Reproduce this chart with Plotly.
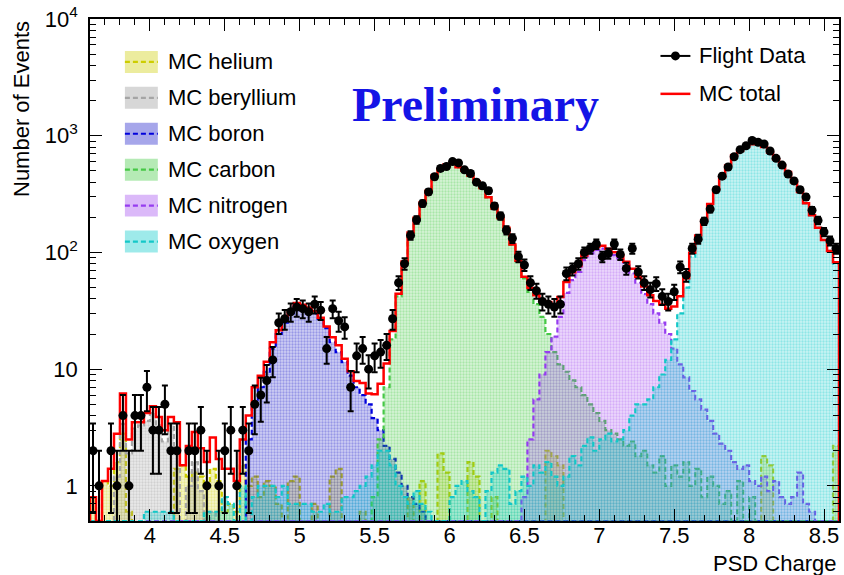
import numpy as np
import plotly.graph_objects as go

# PSD charge binning: 125 bins of width 0.04 between 3.6 and 8.6
CHARGE_LO, CHARGE_HI, N_BINS = 3.6, 8.6, 125

# MC expectation per bin for each species; each list starts at the bin index given by *_first
helium_first = 0
helium = [
    0.8, 0, 1.1, 1.0, 1.6, 2.8, 0.6, 0.4, 0.2, 0,
    0, 0, 0, 0, 1.4, 1.5, 1.2, 1.3, 1.2, 1.0,
    1.4, 1.1, 0.6, 0.7, 0.6, 1.5, 1.0, 1.2, 0.8, 1.1,
    1.0, 0.7, 0, 1.1, 1.2, 0, 0, 0.7, 0, 0,
    1.2, 1.4, 0, 0, 0, 0.6, 0, 0, 0, 0,
    0, 0, 0, 0.8, 0, 1.1, 0, 0, 1.9, 1.3,
    0, 0, 0, 1.6, 1.2, 0, 0, 0.8, 0, 0,
    0, 0, 0, 0, 0, 0, 2.0, 1.8, 1.5, 0,
    0, 0, 0, 0, 0, 0, 0, 0, 0, 0,
    0, 0, 0, 0, 0, 0, 0, 0, 0, 0,
    0, 0, 0, 0, 0, 0, 0, 0, 0, 0,
    0, 0, 1.8, 1.5, 0, 0, 0, 0, 0, 0,
    0, 0, 0, 0, 2.2,
]
beryllium_first = 0
beryllium = [
    0, 0, 0, 0.4, 1.2, 3.4, 1.9, 3.1, 3.3, 3.6,
    4.2, 3.3, 2.4, 3.3, 2.1, 0, 1.0, 1.6, 0.9, 0,
    0.6,
]
boron_first = 26
boron = [
    2.5, 5.0, 7.0, 9.5, 15, 20, 25, 30, 35, 35,
    33, 30, 27, 22.5, 17, 14, 11.5, 8.8, 7.0, 6.0,
    5.0, 3.8, 3.0, 2.2, 1.7, 1.3, 1.0, 0.8, 0.7, 0.6,
]
carbon_first = 47
carbon = [
    0.8, 2.5, 7.0, 18, 42, 82, 146, 197, 266, 337,
    456, 516, 566, 576, 536, 501, 451, 406, 356, 296,
    236, 196, 161, 116, 84, 60, 46, 36, 28, 20,
    14, 11, 9.5, 8, 7, 6, 5, 4.2, 3.6, 3.0,
    2.8, 2.5, 2.2, 2.4, 1.8, 2.0, 1.5, 1.3, 1.8, 1.0,
    1.5, 1.2, 1.6, 1.0, 1.4, 0.8, 1.2, 1.0, 0.7, 0.9,
    0, 1.1, 0, 0.8,
]
nitrogen_first = 72
nitrogen = [
    0.8, 2.5, 5.5, 9, 14, 19, 28, 45, 58, 68,
    86, 98, 105, 108, 102, 95, 89, 78, 66, 55,
    44, 36, 30, 25, 20, 15, 11, 8.5, 6.5, 5.5,
    4.5, 3.6, 2.8, 2.3, 2.0, 1.6, 1.4, 1.5, 1.1, 1.0,
    1.2, 0.9, 1.1, 0.8, 0.7, 0.8, 1.3, 0.7, 0.6,
]
oxygen_first = 9
oxygen = [
    0.6, 0.6, 0.6, 0.6, 0.6, 0, 0, 0, 0, 0,
    0.6, 0.6, 0.6, 0.8, 0.7, 0.5, 1.0, 0.5, 0.8, 1.0,
    1.0, 1.0, 0.8, 1.0, 0.7, 0.7, 0.7, 0.7, 0.6, 0.6,
    0.7, 0.6, 0.6, 0.8, 0.8, 0.9, 1.0, 1.2, 1.5, 2.0,
    2.0, 1.5, 1.0, 0.8, 0.7, 0.9, 0.7, 0.6, 0, 0,
    0, 0.8, 1.0, 1.1, 0.9, 0.8, 0, 0.9, 1.3, 1.5,
    1.4, 0.7, 0.9, 1.2, 1.0, 1.5, 1.3, 1.6, 1.2, 1.0,
    1.2, 1.8, 1.5, 2.2, 2.6, 2.0, 2.5, 2.8, 2.4, 2.5,
    3.0, 4.0, 5.0, 5.0, 5.5, 7.0, 9.0, 12, 18, 30,
    50, 92, 133, 184, 255, 346, 437, 552, 677, 737,
    797, 842, 857, 797, 717, 627, 557, 488, 398, 328,
    263, 208, 163, 128, 103, 80,
]

# Flight data: event counts per bin
flight_data = [
    2, 1, 0, 2, 1, 4, 1, 4, 4, 7,
    3, 3, 5, 2, 2, 0, 2, 2, 3, 1,
    0, 1, 2, 3, 1, 3, 2, 5, 6, 8,
    12, 25, 27, 31, 34, 33, 31, 36, 32, 15,
    33, 26, 23, 7, 13, 15, 10, 13, 14, 16,
    27, 55, 80, 140, 190, 262, 330, 445, 525, 545,
    600, 585, 510, 475, 400, 372, 338, 250, 205, 155,
    132, 92, 78, 55, 47, 38, 36, 34, 36, 66,
    72, 80, 100, 108, 118, 92, 98, 118, 96, 73,
    108, 68, 55, 48, 54, 42, 38, 46, 75, 64,
    108, 130, 185, 235, 345, 450, 540, 660, 760, 820,
    910, 880, 850, 740, 640, 560, 470, 410, 345, 298,
    230, 188, 150, 126, 108,
]

species = [
    ("MC helium", helium_first, helium, "rgb(205,205,0)", (205, 205, 0)),
    ("MC beryllium", beryllium_first, beryllium, "rgb(165,165,165)", (150, 150, 150)),
    ("MC boron", boron_first, boron, "rgb(0,0,220)", (20, 20, 200)),
    ("MC carbon", carbon_first, carbon, "rgb(70,200,70)", (60, 200, 60)),
    ("MC nitrogen", nitrogen_first, nitrogen, "rgb(150,60,240)", (160, 70, 240)),
    ("MC oxygen", oxygen_first, oxygen, "rgb(20,200,200)", (0, 200, 200)),
]

edges = np.linspace(CHARGE_LO, CHARGE_HI, N_BINS + 1)
centers = 0.5 * (edges[:-1] + edges[1:])
Y_MIN, Y_MAX = 0.5, 1e4  # empty bins are drawn on the lower frame edge


def full_hist(first, vals):
    h = np.zeros(N_BINS)
    h[first:first + len(vals)] = vals
    return h


def step_outline(counts):
    y = np.where(counts > Y_MIN, counts, Y_MIN)
    xs = [edges[0]] + list(edges[:-1]) + [edges[-1], edges[-1]]
    ys = [Y_MIN] + list(y) + [y[-1], Y_MIN]
    return xs, ys


fig = go.Figure()
mc_total = np.zeros(N_BINS)

for name, first, vals, line_col, rgb in species:
    h = full_hist(first, vals)
    mc_total += h
    xs, ys = step_outline(h)
    r, g, b = rgb
    fig.add_trace(go.Scatter(
        x=xs, y=ys, mode="lines", line_shape="hv", name=name,
        line=dict(color=line_col, width=2.2, dash="5px,3px"),
        fill="toself",
        fillcolor=f"rgba({r},{g},{b},0.22)",
        fillpattern=dict(shape=".", fgcolor=f"rgba({r},{g},{b},0.6)",
                         bgcolor=f"rgba({r},{g},{b},0.2)", size=3, solidity=0.45),
        showlegend=False, hoverinfo="skip",
    ))

# summed MC expectation
xs, ys = step_outline(mc_total)
fig.add_trace(go.Scatter(
    x=xs, y=ys, mode="lines", line_shape="hv", name="MC total",
    line=dict(color="rgb(255,0,0)", width=2.5), showlegend=False,
))

# data points with Poisson errors
data = np.array(flight_data, dtype=float)
has = data > 0
fig.add_trace(go.Scatter(
    x=centers[has], y=data[has], mode="markers", name="Flight Data",
    marker=dict(color="black", size=9),
    error_y=dict(type="data", array=np.sqrt(data[has]), color="black",
                 thickness=2, width=3),
    showlegend=False,
))

W, H = 844, 575
L, R, T, B = 90, 3, 18, 54
PW, PH = W - L - R, H - T - B


def px(xp):
    return (xp - L) / PW


def py(yp):
    return (H - B - yp) / PH


FONT = "Liberation Sans, Arial, Helvetica, sans-serif"
shapes, annotations = [], []

# MC legend: tinted box with dashed line through the middle
row_y = [61, 97, 133, 169, 205, 241]
for (name, _, _, line_col, rgb), yy in zip(species, row_y):
    r, g, b = rgb
    shapes.append(dict(type="rect", xref="paper", yref="paper",
                       x0=px(125), x1=px(158), y0=py(yy + 11), y1=py(yy - 11),
                       fillcolor=f"rgba({r},{g},{b},0.38)", line=dict(width=0)))
    shapes.append(dict(type="line", xref="paper", yref="paper",
                       x0=px(125), x1=px(158), y0=py(yy), y1=py(yy),
                       line=dict(color=line_col, width=2.2, dash="5px,3px")))
    annotations.append(dict(xref="paper", yref="paper", x=px(166), y=py(yy),
                            text=name, showarrow=False, xanchor="left", yanchor="middle",
                            font=dict(family=FONT, size=22, color="black")))

# data / total legend
shapes.append(dict(type="line", xref="paper", yref="paper", x0=px(662), x1=px(692),
                   y0=py(55), y1=py(55), line=dict(color="black", width=2)))
shapes.append(dict(type="circle", xref="paper", yref="paper", x0=px(672.5), x1=px(681.5),
                   y0=py(59.5), y1=py(50.5), fillcolor="black", line=dict(width=0)))
shapes.append(dict(type="line", xref="paper", yref="paper", x0=px(662), x1=px(692),
                   y0=py(93), y1=py(93), line=dict(color="rgb(255,0,0)", width=2.5)))
for txt, yy in (("Flight Data", 55), ("MC total", 93)):
    annotations.append(dict(xref="paper", yref="paper", x=px(699), y=py(yy),
                            text=txt, showarrow=False, xanchor="left", yanchor="middle",
                            font=dict(family=FONT, size=22, color="black")))

annotations.append(dict(xref="paper", yref="paper", x=px(477), y=py(104),
                        text="<b>Preliminary</b>", showarrow=False,
                        xanchor="center", yanchor="middle",
                        font=dict(family="Liberation Serif, Times New Roman, serif",
                                  size=48, color="rgb(20,20,230)")))
annotations.append(dict(xref="paper", yref="paper", x=px(22), y=py(108),
                        text="Number of Events", textangle=-90, showarrow=False,
                        xanchor="center", yanchor="middle",
                        font=dict(family=FONT, size=22, color="black")))
annotations.append(dict(xref="paper", yref="paper", x=px(841), y=py(564),
                        text="PSD Charge", showarrow=False,
                        xanchor="right", yanchor="middle",
                        font=dict(family=FONT, size=22, color="black")))

y_major = [1, 10, 100, 1000, 10000]
y_major_text = ["1", "10", "10<sup>2</sup>", "10<sup>3</sup>", "10<sup>4</sup>"]
y_minor = [m * 10 ** e for e in range(-1, 4) for m in range(2, 10)]

fig.update_layout(
    width=W, height=H,
    margin=dict(l=L, r=R, t=T, b=B),
    paper_bgcolor="white", plot_bgcolor="white",
    font=dict(family=FONT, size=22, color="black"),
    shapes=shapes, annotations=annotations,
    showlegend=False,
    xaxis=dict(range=[CHARGE_LO, CHARGE_HI], showgrid=False, zeroline=False,
               showline=True, linecolor="black", linewidth=1.5, mirror="ticks",
               ticks="inside", ticklen=12, tickwidth=1.2, tickcolor="black",
               tick0=0, dtick=0.5, tickfont=dict(size=22), ticklabelstandoff=-6,
               minor=dict(ticks="inside", ticklen=6, tickwidth=1, tickcolor="black",
                          dtick=0.1, showgrid=False)),
    yaxis=dict(type="log", range=[np.log10(Y_MIN), np.log10(Y_MAX)],
               showgrid=False, zeroline=False,
               showline=True, linecolor="black", linewidth=1.5, mirror="ticks",
               ticks="inside", ticklen=12, tickwidth=1.2, tickcolor="black",
               tickmode="array", tickvals=y_major, ticktext=y_major_text,
               tickfont=dict(size=22), ticklabelstandoff=6,
               minor=dict(ticks="inside", ticklen=6, tickwidth=1, tickcolor="black",
                          tickmode="array", tickvals=y_minor, showgrid=False)),
)

fig.write_html("out.html")
